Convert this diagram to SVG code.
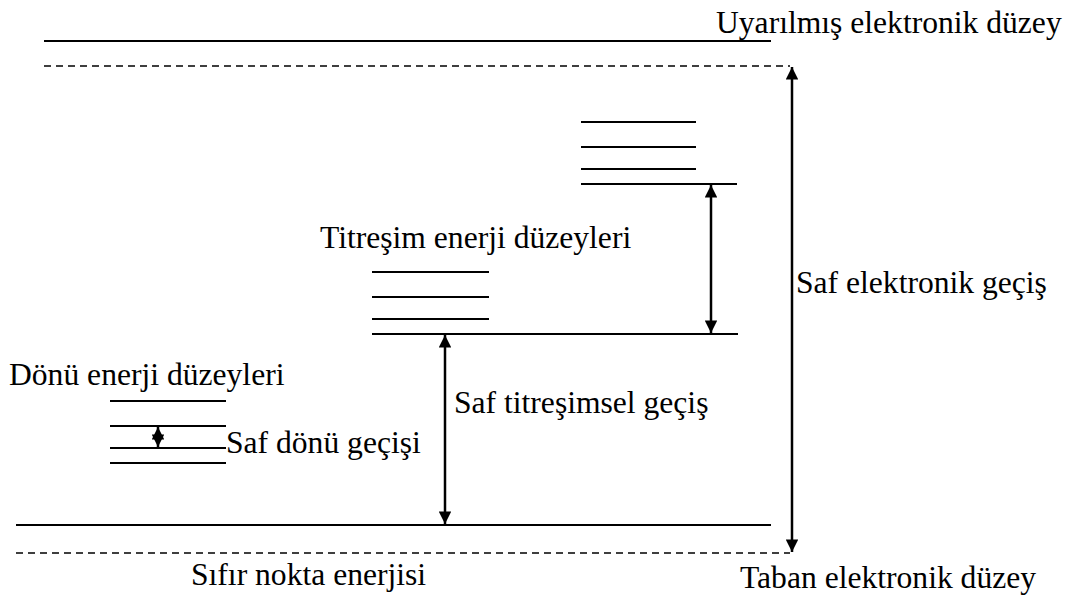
<svg xmlns="http://www.w3.org/2000/svg" width="1076" height="597" viewBox="0 0 1076 597">
<defs>
<style>
.l{stroke:#000;stroke-width:2;fill:none}
.d{stroke:#000;stroke-width:1.5;fill:none;stroke-dasharray:7,5}
.a{stroke:#000;stroke-width:2.5;fill:none;marker-start:url(#h);marker-end:url(#h)}
</style>
<marker id="h" viewBox="0 0 10 10" refX="10" refY="5" markerWidth="6" markerHeight="5" orient="auto-start-reverse" markerUnits="strokeWidth">
<path d="M0,0 L10,5 L0,10 z" fill="#000"/>
</marker>
</defs>
<rect width="1076" height="597" fill="#fff"/>
<g font-family="'Liberation Serif', 'Times New Roman', serif" font-size="31.6" fill="#000">
<g id="excited">
<line class="l" x1="44" y1="41" x2="771" y2="41"/>
<line class="d" x1="44" y1="66" x2="790" y2="66"/>
<text x="716" y="33">Uyarılmış elektronik düzey</text>
</g>
<g id="ground">
<line class="l" x1="16" y1="525" x2="771" y2="525"/>
<line class="d" x1="16" y1="553" x2="790" y2="553"/>
<text x="740" y="588">Taban elektronik düzey</text>
<text x="191" y="585">Sıfır nokta enerjisi</text>
</g>
<g id="vib-upper">
<line class="l" x1="581" y1="122" x2="696" y2="122"/>
<line class="l" x1="581" y1="147" x2="696" y2="147"/>
<line class="l" x1="581" y1="169" x2="696" y2="169"/>
<line class="l" x1="581" y1="184" x2="737" y2="184"/>
</g>
<g id="vib-lower">
<line class="l" x1="372" y1="272" x2="489" y2="272"/>
<line class="l" x1="372" y1="297" x2="489" y2="297"/>
<line class="l" x1="372" y1="319" x2="489" y2="319"/>
<line class="l" x1="372" y1="334" x2="738" y2="334"/>
<text x="320" y="248">Titreşim enerji düzeyleri</text>
</g>
<g id="rot">
<line class="l" x1="110" y1="401" x2="226" y2="401"/>
<line class="l" x1="110" y1="426" x2="226" y2="426"/>
<line class="l" x1="110" y1="448" x2="226" y2="448"/>
<line class="l" x1="110" y1="463" x2="226" y2="463"/>
<text x="9" y="385">Dönü enerji düzeyleri</text>
</g>
<g id="connectors">
<line class="a" x1="792" y1="67" x2="792" y2="552"/>
<line class="a" x1="711" y1="185" x2="711" y2="333"/>
<line class="a" x1="445" y1="335" x2="445" y2="524"/>
<line class="a" x1="158" y1="427" x2="158" y2="447"/>
</g>
<g id="labels">
<text x="796" y="293">Saf elektronik geçiş</text>
<text x="454" y="413">Saf titreşimsel geçiş</text>
<text x="226" y="453">Saf dönü geçişi</text>
</g>
</g>
</svg>
